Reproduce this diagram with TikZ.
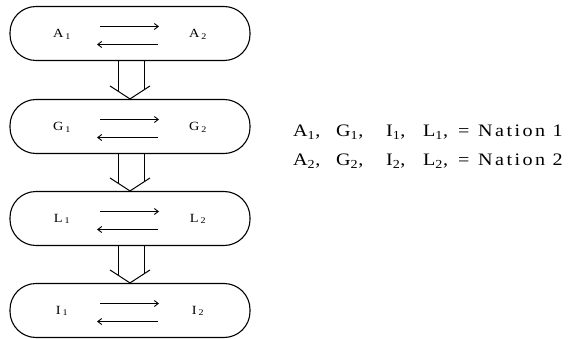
\documentclass[tikz,border=0pt]{standalone}
\usepackage{fontspec}
\setmainfont{Liberation Serif}
\newfontfamily\spacedfont[LetterSpace=14,FakeStretch=1.15]{Liberation Serif}
\newfontfamily\labfont[FakeStretch=1.15]{Liberation Serif}
\usetikzlibrary{arrows.meta,calc}
\newcommand{\sbx}[1]{\,\textsubscript{#1}}
\newcommand{\seg}[2]{\makebox[#1][l]{#2}}
\begin{document}
\begin{tikzpicture}[x=1pt,y=-1pt,
  box/.style={draw,line width=1.1pt,rounded corners=26pt,minimum width=240pt,minimum height=54pt,inner sep=0pt},
  lab/.style={font=\labfont\fontsize{12.5}{14}\selectfont,inner sep=0pt},
  flow/.style={line width=0.9pt,-{Straight Barb[length=4pt,width=6pt]}},
  hollow/.style={line width=1pt},
  legend/.style={font=\spacedfont\fontsize{17.5}{20}\selectfont,inner sep=0pt,anchor=west}]
\useasboundingbox (0,0) rectangle (572,339);
% boxes
\node[box] (b1) at (130,33.5) {};
\node[box] (b2) at (130,126.5) {};
\node[box] (b3) at (130,218.5) {};
\node[box] (b4) at (130,310.5) {};
% labels
\node[lab] (l1) at (62,34) {A\sbx{1}};
\node[lab] (r1) at (198,34) {A\sbx{2}};
\node[lab] (l2) at (62,127) {G\sbx{1}};
\node[lab] (r2) at (198,127) {G\sbx{2}};
\node[lab] (l3) at (62,219) {L\sbx{1}};
\node[lab] (r3) at (198,219) {L\sbx{2}};
\node[lab] (l4) at (62,311) {I\sbx{1}};
\node[lab] (r4) at (198,311) {I\sbx{2}};
% exchange arrows
\foreach \i in {1,2,3,4}{
  \coordinate (f\i s) at ($(b\i.center)+(-30,-7)$);
  \coordinate (f\i e) at ($(b\i.center)+(29,-7)$);
  \coordinate (g\i s) at ($(b\i.center)+(28,11)$);
  \coordinate (g\i e) at ($(b\i.center)+(-33,11)$);
  \draw[flow] (f\i s) -- (f\i e);
  \draw[flow] (g\i s) -- (g\i e);
}
% hollow arrows between boxes
\foreach \a/\b in {b1/b2,b2/b3,b3/b4}{
  \coordinate (tip) at (\b.north);
  \draw[hollow] ($(\a.south)+(-12,0)$) -- ($(tip)+(-12,-8)$);
  \draw[hollow] ($(\a.south)+(14,0)$) -- ($(tip)+(14,-9)$);
  \draw[hollow] ($(tip)+(-20,-13)$) -- (tip) -- ($(tip)+(20,-13)$);
}
% legend
\node[legend] (n1) at (293,132) {\seg{43pt}{A\textsubscript{1},}\seg{50pt}{G\textsubscript{1},}\seg{37pt}{I\textsubscript{1},}\seg{35pt}{L\textsubscript{1},}\seg{20pt}{=}Nation 1};
\node[legend] (n2) at (293,161) {\seg{43pt}{A\textsubscript{2},}\seg{50pt}{G\textsubscript{2},}\seg{37pt}{I\textsubscript{2},}\seg{35pt}{L\textsubscript{2},}\seg{20pt}{=}Nation 2};
\end{tikzpicture}
\end{document}
